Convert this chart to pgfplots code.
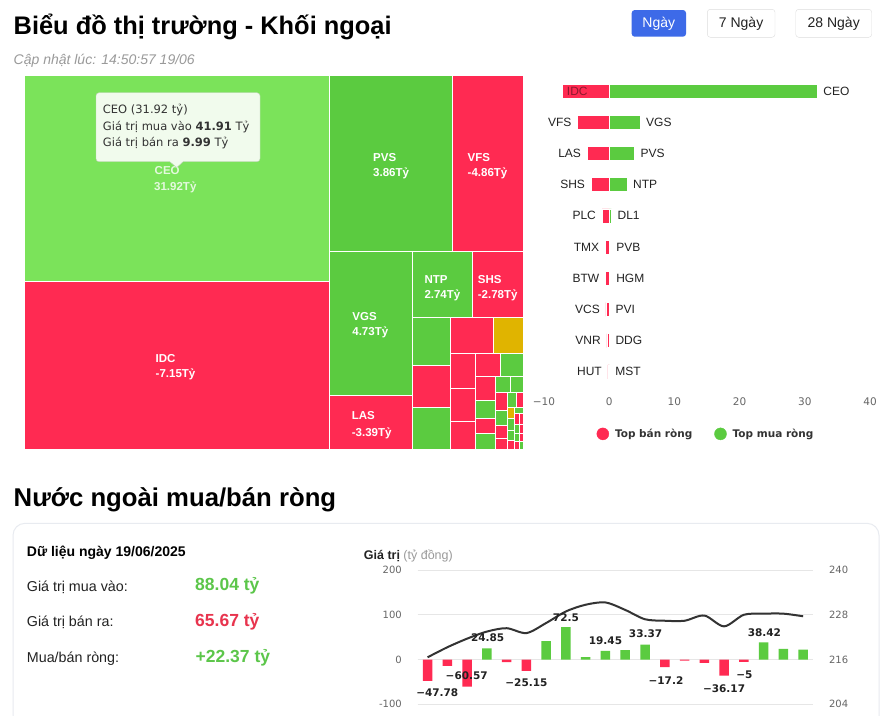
\documentclass[border=0pt]{standalone}
\usepackage{fontspec}
\setmainfont{Liberation Sans}
\newfontfamily\dejavu{DejaVu Sans}
\usepackage{pgfplots}
\pgfplotsset{compat=1.18}
\definecolor{cgreen}{HTML}{5BCB40}
\definecolor{clight}{HTML}{7BE35A}
\definecolor{cred}{HTML}{FF2A52}
\definecolor{cgold}{HTML}{E0B400}
\definecolor{cblue}{HTML}{3D6AE8}
\definecolor{tickgray}{HTML}{666666}
\definecolor{gridc}{HTML}{E6E6E6}
\definecolor{linec}{HTML}{333333}
\definecolor{tipbg}{HTML}{F1FBED}
\definecolor{tipbd}{HTML}{BFCFB8}
\definecolor{subgray}{HTML}{9A9A9A}
\definecolor{numgreen}{HTML}{5CC64A}
\definecolor{numred}{HTML}{E8344E}
\definecolor{idctext}{HTML}{8C1A2E}
\definecolor{cardbd}{HTML}{E8EBF0}
\definecolor{btnbd}{HTML}{DDDDDD}
\definecolor{txt}{HTML}{222222}
\newcommand\fs[1]{\fontsize{#1}{#1}\selectfont}
\newcommand\tile[5]{\addplot[fill=#5, draw=white, line width=1pt] coordinates {(#1,#2) (#3,#2) (#3,#4) (#1,#4)} -- cycle;}
\newcommand\tlab[5]{%
  \node[anchor=base west, inner sep=0pt, text=white, font=\bfseries\fs{11.5}] at (axis cs:#1,#2) {#4};
  \node[anchor=base west, inner sep=0pt, text=white, font=\bfseries\fs{11.5}] at (axis cs:#1,#3) {#5};}
\begin{document}
\begin{tikzpicture}
\useasboundingbox (0,0) rectangle (888pt,-715pt);
\fill[white] (0,0) rectangle (888pt,-715pt);
\begin{scope}[x=1pt,y=-1pt]
\node[anchor=base west, inner sep=0pt, text=black] at (13.5,34.3) {\fs{25.4}\bfseries Biểu đồ thị trường - Khối ngoại};
\node[anchor=base west, inner sep=0pt, text=subgray] at (13.5,64) {\fs{14}\itshape Cập nhật lúc: 14:50:57 19/06};
\fill[cblue, rounded corners=3pt] (631.7,10) rectangle (686,36.7);
\node[text=white, inner sep=0pt] at (658.8,23.3) {\fs{14}Ngày};
\draw[btnbd, fill=white, rounded corners=3pt] (707.3,9.3) rectangle (775,37.3);
\node[text=txt, inner sep=0pt] at (741.1,23.3) {\fs{14}7 Ngày};
\draw[btnbd, fill=white, rounded corners=3pt] (795.7,9.3) rectangle (871.7,37.3);
\node[text=txt, inner sep=0pt] at (833.7,23.3) {\fs{14}28 Ngày};
\node[anchor=base west, inner sep=0pt, text=black] at (13.5,506.5) {\fs{25.7}\bfseries Nước ngoài mua/bán ròng};
\draw[cardbd, line width=1pt, fill=white, rounded corners=12pt] (13,523.3) rectangle (879,780);
\node[anchor=base west, inner sep=0pt, text=black] at (26.7,556.7) {\fs{14}\bfseries Dữ liệu ngày 19/06/2025};
\node[anchor=base west, inner sep=0pt, text=txt] at (26.7,591) {\fs{14.3}Giá trị mua vào:};
\node[anchor=base west, inner sep=0pt, text=txt] at (26.7,626.7) {\fs{14.3}Giá trị bán ra:};
\node[anchor=base west, inner sep=0pt, text=txt] at (26.7,662.7) {\fs{14.3}Mua/bán ròng:};
\node[anchor=base west, inner sep=0pt, text=numgreen] at (195,590) {\fs{17.5}\bfseries 88.04 tỷ};
\node[anchor=base west, inner sep=0pt, text=numred] at (195,626.7) {\fs{17.5}\bfseries 65.67 tỷ};
\node[anchor=base west, inner sep=0pt, text=numgreen] at (195.5,662.3) {\fs{17.5}\bfseries +22.37 tỷ};
\node[anchor=base west, inner sep=0pt, text=txt] at (363.7,559) {\fs{12.5}\textbf{Giá trị} \textcolor{subgray}{(tỷ đồng)}};
\end{scope}

% ---------------- treemap ----------------
\begin{axis}[at={(24pt,-75pt)}, anchor=north west, scale only axis, width=499pt, height=374pt,
  xmin=24, xmax=523, ymin=75, ymax=449, y dir=reverse, hide axis, clip=false]
\tile{24}{75}{329.5}{281}{clight}
\tile{24}{281}{329.5}{449}{cred}
\tile{329.5}{75}{452}{251}{cgreen}
\tile{452}{75}{523}{251}{cred}
\tile{329.5}{251}{412.5}{395}{cgreen}
\tile{329.5}{395}{412.5}{449}{cred}
\tile{412.5}{251}{472.5}{317.7}{cgreen}
\tile{472.5}{251}{523}{317.7}{cred}
\tile{412.5}{317.7}{450.3}{365.3}{cgreen}
\tile{412.5}{365.3}{450.3}{407}{cred}
\tile{412.5}{407}{450.3}{449}{cgreen}
\tile{450.3}{317.7}{493}{353.3}{cred}
\tile{493}{317.7}{523}{353.3}{cgold}
\tile{450.3}{353.3}{475.5}{388.3}{cred}
\tile{450.3}{388.3}{475.5}{421.3}{cred}
\tile{450.3}{421.3}{475.5}{449}{cred}
\tile{475.5}{353.3}{500}{376}{cred}
\tile{500}{353.3}{523}{376}{cgreen}
\tile{475.5}{376}{495.3}{400}{cred}
\tile{475.5}{400}{495.3}{418.3}{cgreen}
\tile{475.5}{418.3}{495.3}{433.3}{cred}
\tile{475.5}{433.3}{495.3}{449}{cgreen}
\tile{495.3}{376}{510.3}{392}{cgreen}
\tile{510.3}{376}{523}{392}{cgreen}
\tile{495.3}{392}{507}{410}{cred}
\tile{495.3}{410}{507}{425.3}{cgreen}
\tile{495.3}{425.3}{507}{438.7}{cred}
\tile{495.3}{438.7}{507}{449}{cred}
\tile{507}{392}{516}{407}{cgreen}
\tile{516}{392}{523}{407}{cred}
\tile{507}{407}{514}{418}{cgold}
\tile{514}{407}{523}{413}{cgreen}
\tile{514}{413}{519}{424}{cred}
\tile{519}{413}{523}{424}{cred}
\tile{507}{418}{514}{430}{cgreen}
\tile{514}{424}{519}{433}{cgreen}
\tile{519}{424}{523}{433}{cred}
\tile{507}{430}{514}{440}{cgreen}
\tile{514}{433}{519}{441}{cgreen}
\tile{519}{433}{523}{441}{cred}
\tile{507}{440}{514}{449}{cred}
\tile{514}{441}{519}{449}{cred}
\tile{519}{441}{523}{449}{cgreen}
\node[anchor=base west, inner sep=0pt, text=white!80!clight, font=\bfseries\fs{11.5}] at (axis cs:154.5,174.8) {CEO};
\node[anchor=base west, inner sep=0pt, text=white!80!clight, font=\bfseries\fs{11.5}] at (axis cs:154,190.8) {31.92Tỷ};
\tlab{155.5}{362.1}{377.1}{IDC}{-7.15Tỷ}
\tlab{373}{161.1}{176.1}{PVS}{3.86Tỷ}
\tlab{467.5}{161.1}{176.1}{VFS}{-4.86Tỷ}
\tlab{352.2}{320.8}{335.8}{VGS}{4.73Tỷ}
\tlab{424.3}{283.1}{298.4}{NTP}{2.74Tỷ}
\tlab{477.7}{283.1}{298.4}{SHS}{-2.78Tỷ}
\tlab{351.7}{419.8}{436.8}{LAS}{-3.39Tỷ}
\end{axis}

% tooltip
\begin{scope}[x=1pt,y=-1pt]
\draw[fill=tipbg, draw=tipbd, rounded corners=3pt] (96,92.7) rectangle (260,161.7);
\fill[tipbg] (169.5,161) -- (176.7,167.5) -- (183.5,161) -- cycle;
\draw[tipbd] (169.5,161.7) -- (176.7,167.5) -- (183.5,161.7);
\node[anchor=base west, inner sep=0pt, text=linec] at (102.7,113.3) {\dejavu\fs{11.5}CEO (31.92 tỷ)};
\node[anchor=base west, inner sep=0pt, text=linec] at (102.7,130) {\dejavu\fs{11.5}Giá trị mua vào \textbf{41.91} Tỷ};
\node[anchor=base west, inner sep=0pt, text=linec] at (102.7,146.7) {\dejavu\fs{11.5}Giá trị bán ra \textbf{9.99} Tỷ};
\end{scope}

% ---------------- horizontal bars ----------------
\begin{axis}[at={(544pt,-75.4pt)}, anchor=north west, scale only axis, width=326pt, height=312pt,
  xmin=-10, xmax=40, ymin=-0.5, ymax=9.5, y dir=reverse, axis line style={draw=none},
  ytick=\empty, xtick={-10,0,10,20,30,40}, xticklabels={−10,0,10,20,30,40}, major tick length=0pt,
  xticklabel style={font=\dejavu\fs{10.5}, text=tickgray, yshift=-7pt}, clip=false,
  legend columns=2,
  legend style={draw=none, fill=none, at={(0.497,-0.149)}, anchor=center, font=\dejavu\bfseries\fs{10.5}, text=linec,
    /tikz/every even column/.append style={column sep=20pt}}]
\addplot[xbar, bar width=14pt, bar shift=0pt, fill=cred, draw=white, line width=0.6pt, forget plot,
  nodes near coords, point meta=explicit symbolic,
  nodes near coords style={font=\fs{12}, text=txt, anchor=east, xshift=-2.5pt}]
  coordinates {(-7.15,0)[\mbox{}] (-4.86,1)[VFS] (-3.39,2)[LAS] (-2.78,3)[SHS] (-1.1,4)[PLC]
   (-0.6,5)[TMX] (-0.6,6)[BTW] (-0.5,7)[VCS] (-0.35,8)[VNR] (-0.2,9)[HUT]};
\addplot[xbar, bar width=14pt, bar shift=0pt, fill=cgreen, draw=white, line width=0.6pt, forget plot,
  nodes near coords, point meta=explicit symbolic,
  nodes near coords style={font=\fs{12}, text=txt, anchor=west, xshift=2.5pt}]
  coordinates {(31.92,0)[CEO] (4.73,1)[VGS] (3.86,2)[PVS] (2.74,3)[NTP] (0.35,4)[DL1]
   (0.15,5)[PVB] (0.15,6)[HGM] (0.05,7)[PVI] (0.03,8)[DDG] (0.02,9)[MST]};
\node[text=idctext, inner sep=0pt, font=\fs{12}] at (axis cs:-4.9,0) {IDC};
\addlegendimage{legend image code/.code={\fill[cred] (3pt,0pt) circle (6pt); \path (13pt,0pt);}}
\addlegendentry{Top bán ròng}
\addlegendimage{legend image code/.code={\fill[cgreen] (3pt,0pt) circle (6pt); \path (13pt,0pt);}}
\addlegendentry{Top mua ròng}
\end{axis}

% ---------------- combo chart: right axis (line) ----------------
\begin{axis}[at={(417.7pt,-704.3pt)}, anchor=south west, scale only axis, width=395.3pt, height=134.3pt,
  xmin=-0.5, xmax=19.5, ymin=204, ymax=240, ytick={204,216,228,240}, yticklabels={204,216,228,240},
  ymajorgrids, grid style={gridc, line width=0.8pt}, yticklabel pos=right, axis line style={draw=none},
  xtick=\empty, major tick length=0pt, yticklabel style={font=\dejavu\fs{10}, text=tickgray, xshift=12.5pt},
  clip=false]
\addplot[smooth, line width=2pt, color=linec] coordinates {(0,216.6) (1,219.3) (2,221.6) (3,223.5) (4,224.4)
  (5,223.1) (6,225.8) (7,228.9) (8,230.7) (9,231.3) (10,229.3) (11,226.8) (12,226.4) (13,226.4) (14,227.8)
  (15,224.9) (16,228) (17,228.3) (18,228.3) (19,227.6)};
\end{axis}

% ---------------- combo chart: left axis (bars) ----------------
\begin{axis}[at={(417.7pt,-704.3pt)}, anchor=south west, scale only axis, width=395.3pt, height=134.3pt,
  xmin=-0.5, xmax=19.5, ymin=-100, ymax=200, ytick={-100,0,100,200}, yticklabels={-100,0,100,200},
  axis line style={draw=none}, xtick=\empty, major tick length=0pt,
  yticklabel style={font=\dejavu\fs{10}, text=tickgray, xshift=-12.4pt}, clip=false]
\addplot[ybar, bar width=9.5pt, bar shift=0pt, fill=cred, draw=none] coordinates {(0,-47.78) (1,-14) (2,-60.57)
  (4,-5.5) (5,-25.15) (12,-17.2) (13,-2.5) (14,-7.5) (15,-36.17) (16,-5)};
\addplot[ybar, bar width=9.5pt, bar shift=0pt, fill=cgreen, draw=none] coordinates {(3,24.85) (6,41) (7,72.5)
  (8,5.5) (9,19.45) (10,21) (11,33.37) (17,38.42) (18,24) (19,22.37)};
\begin{scope}[every node/.style={font=\dejavu\bfseries\fs{10.5}, text=txt, inner sep=0pt}]
\node at (axis cs:0.49,-74.3) {−47.78};
\node at (axis cs:1.98,-35.7) {−60.57};
\node at (axis cs:3.04,48.4) {24.85};
\node at (axis cs:5.0,-52) {−25.15};
\node at (axis cs:7.0,94.4) {72.5};
\node at (axis cs:9.0,42.4) {19.45};
\node at (axis cs:11.03,57.5) {33.37};
\node at (axis cs:12.06,-46.2) {−17.2};
\node at (axis cs:15.0,-65.1) {−36.17};
\node at (axis cs:16.03,-33.5) {−5};
\node at (axis cs:17.04,61.1) {38.42};
\end{scope}
\end{axis}
\end{tikzpicture}
\end{document}
